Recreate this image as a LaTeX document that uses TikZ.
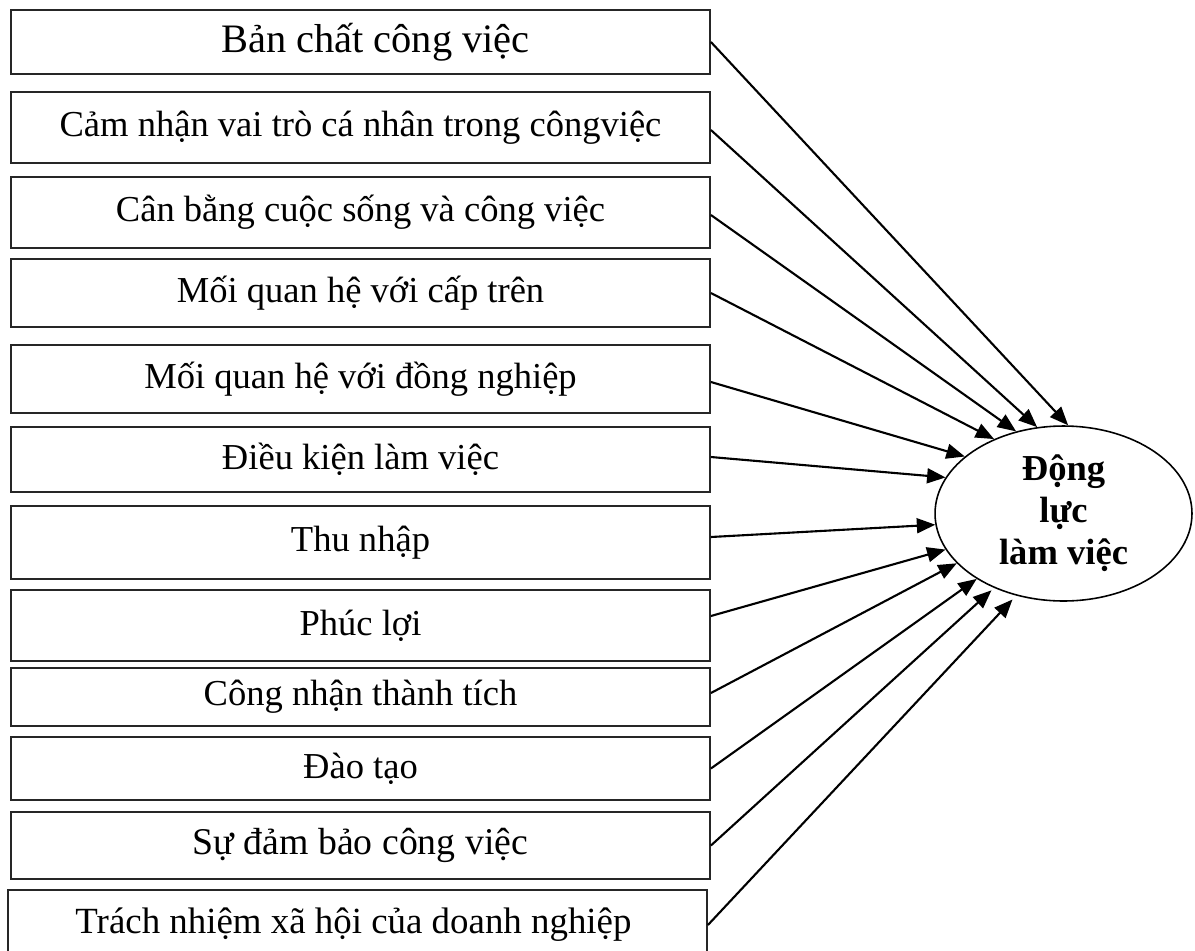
\documentclass[tikz,border=0pt]{standalone}
\usepackage{fontspec}
\setmainfont{Liberation Serif}
\usetikzlibrary{arrows.meta,shapes.geometric}
\begin{document}
\begin{tikzpicture}[x=0.02cm,y=-0.02cm,
  box/.style={draw=black!85,line width=1.1pt,minimum width=13.98cm,inner sep=0pt,font=\fontsize{20.8}{25}\selectfont},
  goal/.style={draw=black,line width=0.9pt,ellipse,minimum width=5.14cm,minimum height=3.5cm,inner sep=0pt,align=center,font=\bfseries\fontsize{20.8}{23.8}\selectfont},
  link/.style={line width=1.2pt,-{Triangle[length=10.5pt,width=8.5pt]}}]
\useasboundingbox (0,0) rectangle (1195,950);
\clip (0,0) rectangle (1195,950);
\node[box,minimum height=1.28cm,font=\fontsize{23}{27}\selectfont] (b1) at (360.5,42) {\hspace*{0.6cm}Bản chất công việc};
\node[box,minimum height=1.42cm] (b2) at (360.5,127.5) {Cảm nhận vai trò cá nhân trong côngviệc};
\node[box,minimum height=1.42cm] (b3) at (360.5,212.5) {Cân bằng cuộc sống và công việc};
\node[box,minimum height=1.36cm] (b4) at (360.5,293) {Mối quan hệ với cấp trên};
\node[box,minimum height=1.36cm] (b5) at (360.5,379) {Mối quan hệ với đồng nghiệp};
\node[box,minimum height=1.30cm] (b6) at (360.5,459.5) {Điều kiện làm việc};
\node[box,minimum height=1.46cm] (b7) at (360.5,542.5) {Thu nhập};
\node[box,minimum height=1.42cm] (b8) at (360.5,625.5) {Phúc lợi};
\node[box,minimum height=1.16cm] (b9) at (360.5,697) {\raisebox{-0.1cm}{Công nhận thành tích}};
\node[box,minimum height=1.26cm] (b10) at (360.5,768.5) {Đào tạo};
\node[box,minimum height=1.34cm,font=\fontsize{21.5}{26}\selectfont] (b11) at (360.5,845.5) {Sự đảm bảo công việc};
\node[box,minimum height=1.40cm,font=\fontsize{21}{26}\selectfont] (b12) at (357.5,925) {\hspace*{-0.16cm}\raisebox{-0.08cm}{Trách nhiệm xã hội của doanh nghiệp}};
\node[goal] (g) at (1063.5,513.5) {Động\\lực\\làm việc};
\draw[link] (b1.east) -- (g.87.7);
\draw[link] ([yshift=-0.05cm]b2.east) -- (g.107.8);
\draw[link] ([yshift=-0.05cm]b3.east) -- (g.120.5);
\draw[link] (b4.east) -- (g.133.9);
\draw[link] ([yshift=-0.06cm]b5.east) -- (g.150.2);
\draw[link] ([yshift=0.05cm]b6.east) -- (g.163.3);
\draw[link] ([yshift=0.11cm]b7.east) -- (g.185.1);
\draw[link] ([yshift=0.19cm]b8.east) -- (g.197.1);
\draw[link] ([yshift=0.08cm]b9.east) -- (g.205.8);
\draw[link] (b10.east) -- (g.217.6);
\draw[link,shorten >=2pt] (b11.east) -- (g.227.7);
\draw[link,shorten >=3pt] (b12.east) -- (g.240.3);
\end{tikzpicture}
\end{document}
